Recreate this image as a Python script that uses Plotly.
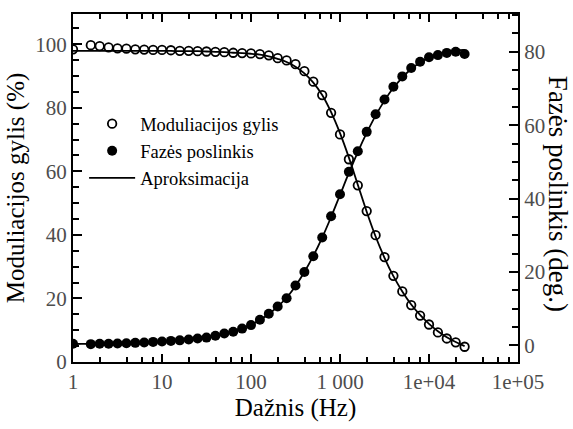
import plotly.graph_objects as go

# measured frequencies (Hz)
freq = [1, 1.585, 1.995, 2.512, 3.162, 3.981, 5.012, 6.310, 7.943, 10, 12.59, 15.85, 19.95,
        25.12, 31.62, 39.81, 50.12, 63.10, 79.43, 100, 125.9, 158.5, 199.5, 251.2, 316.2,
        398.1, 501.2, 631.0, 794.3, 1000, 1259, 1585, 1995, 2512, 3162, 3981, 5012, 6310,
        7943, 10000, 12589, 15849, 19953, 25119]
mod_depth = [98.4, 99.7, 99.4, 99.0, 98.7, 98.6, 98.4, 98.3, 98.2, 98.2, 98.1, 97.9, 97.9,
             97.8, 97.7, 97.6, 97.5, 97.3, 97.2, 97.1, 96.9, 96.5, 95.6, 94.9, 93.7, 91.5,
             88.2, 84.0, 78.4, 71.6, 63.8, 55.6, 47.5, 39.9, 33.0, 27.1, 22.2, 17.9, 14.6,
             11.8, 9.3, 7.4, 6.2, 4.8]
phase = [0.45, 0.36, 0.45, 0.45, 0.53, 0.62, 0.71, 0.8, 0.98, 1.07, 1.25, 1.4, 1.65, 1.9,
         2.15, 2.67, 3.25, 3.75, 4.6, 5.55, 7.0, 8.65, 10.6, 12.85, 16.35, 20.0, 24.3, 29.4,
         35.2, 41.2, 47.3, 52.9, 58.2, 63.0, 67.0, 70.5, 73.3, 75.6, 77.3, 78.5, 79.1, 79.7,
         80.0, 79.4]

# approximation curves
fit_freq = [1, 1.259, 1.585, 1.995, 2.512, 3.162, 3.981, 5.012, 6.310, 7.943, 10, 12.59,
            15.85, 19.95, 25.12, 31.62, 39.81, 50.12, 63.10, 79.43, 100, 125.9, 158.5, 199.5,
            251.2, 316.2, 398.1, 501.2, 631.0, 794.3, 1000, 1259, 1585, 1995, 2512, 3162,
            3981, 5012, 6310, 7943, 10000, 12589, 15849, 19953, 25119]
fit_mod = [97.9, 97.9, 97.9, 97.9, 97.9, 97.9, 97.9, 97.9, 97.9, 97.9, 97.9, 97.9, 97.8,
           97.8, 97.8, 97.7, 97.6, 97.5, 97.3, 97.2, 97.0, 96.7, 96.2, 95.4, 94.4, 92.9,
           90.8, 87.9, 84.0, 78.6, 72.0, 64.3, 55.8, 47.3, 39.5, 32.8, 27.0, 22.2, 18.1,
           14.8, 12.0, 9.7, 7.8, 6.3, 5.0]
fit_phase = [0.4, 0.42, 0.45, 0.48, 0.52, 0.57, 0.63, 0.71, 0.8, 0.92, 1.05, 1.2, 1.4, 1.65,
             1.95, 2.3, 2.75, 3.3, 3.9, 4.7, 5.65, 6.95, 8.6, 10.6, 13.0, 16.2, 20.0, 24.4,
             29.4, 35.0, 41.0, 47.0, 52.7, 57.9, 62.6, 66.7, 70.2, 73.0, 75.3, 77.1, 78.4,
             79.3, 79.9, 80.3, 80.5]

x_tickvals = [1, 10, 100, 1000, 10000, 100000]
x_ticktext = ["1", "10", "100", "1 000", "1e+04", "1e+05"]
x_minor = [m * 10 ** e for e in range(5) for m in (2, 4, 6, 8)]

FONT = "'Liberation Serif', 'Times New Roman', serif"
TICKC = "#4d4d4d"

fig = go.Figure()
fig.add_trace(go.Scatter(x=fit_freq, y=fit_mod, mode="lines", line=dict(color="black", width=1.8, shape="spline"),
                         name="Aproksimacija", showlegend=True, legendrank=3))
fig.add_trace(go.Scatter(x=fit_freq, y=fit_phase, mode="lines", line=dict(color="black", width=1.8, shape="spline"),
                         name="Aproksimacija", showlegend=False, yaxis="y2"))
fig.add_trace(go.Scatter(x=freq, y=mod_depth, mode="markers", name="Moduliacijos gylis", legendrank=1,
                         marker=dict(symbol="circle-open", size=8.5, color="black", line=dict(width=1.8, color="black"))))
fig.add_trace(go.Scatter(x=freq, y=phase, mode="markers", name="Fazės poslinkis", legendrank=2, yaxis="y2",
                         marker=dict(symbol="circle", size=10, color="black")))

fig.update_layout(
    width=573, height=429,
    margin=dict(l=73, r=55, t=13, b=60),
    paper_bgcolor="white", plot_bgcolor="white",
    font=dict(family=FONT, size=20, color="black"),
    showlegend=True,
    legend=dict(x=0.025, y=0.738, xanchor="left", yanchor="top", bgcolor="rgba(0,0,0,0)",
                font=dict(family=FONT, size=18.5, color="black"), itemwidth=46,
                tracegroupgap=0, traceorder="normal"),
    xaxis=dict(type="log", range=[0, 5], tickmode="array", tickvals=x_tickvals, ticktext=x_ticktext,
               showgrid=False, zeroline=False, showline=True, linecolor="black", linewidth=2,
               mirror="ticks", ticks="inside", ticklen=8, tickwidth=1.5, tickcolor="black",
               tickfont=dict(family=FONT, size=21, color=TICKC),
               minor=dict(tickmode="array", tickvals=x_minor, ticks="inside", ticklen=5, tickwidth=1.5,
                          tickcolor="black", showgrid=False),
               title=dict(text="Dažnis (Hz)", font=dict(family=FONT, size=25, color="black"), standoff=5)),
    yaxis=dict(range=[0, 109.5], tickmode="linear", tick0=0, dtick=20,
               showgrid=False, zeroline=False, showline=True, linecolor="black", linewidth=2,
               ticks="inside", ticklen=9, tickwidth=1.5, tickcolor="black",
               tickfont=dict(family=FONT, size=21, color=TICKC),
               minor=dict(dtick=5, ticks="inside", ticklen=6, tickwidth=1.5, tickcolor="black", showgrid=False),
               title=dict(text="Moduliacijos gylis (%)", font=dict(family=FONT, size=25, color="black"), standoff=4)),
    yaxis2=dict(overlaying="y", side="right", range=[-4.5, 90.3], tickmode="linear", tick0=0, dtick=20,
                showgrid=False, zeroline=False, showline=True, linecolor="black", linewidth=2,
                ticks="inside", ticklen=9, tickwidth=1.5, tickcolor="black",
                tickfont=dict(family=FONT, size=21, color=TICKC),
                minor=dict(dtick=5, ticks="inside", ticklen=6, tickwidth=1.5, tickcolor="black", showgrid=False)),
    annotations=[dict(text="Fazės poslinkis (deg.)", textangle=90, xref="paper", yref="paper",
                      x=1.09, y=0.483, xanchor="center", yanchor="middle", showarrow=False,
                      font=dict(family=FONT, size=27, color="black"))],
)

fig.write_html("out.html")
